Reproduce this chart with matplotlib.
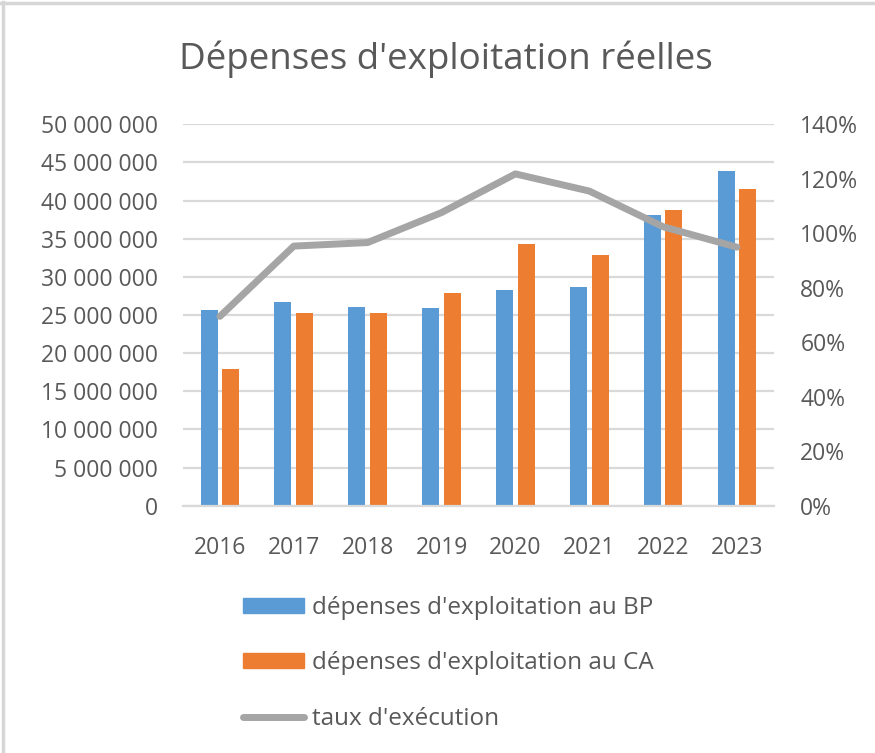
import matplotlib
matplotlib.use("Agg")
import matplotlib.pyplot as plt
from matplotlib.ticker import FuncFormatter, MultipleLocator
from matplotlib.patches import Rectangle
from matplotlib.lines import Line2D
import numpy as np

years = ["2016", "2017", "2018", "2019", "2020", "2021", "2022", "2023"]
bp = [25.65e6, 26.66e6, 26.09e6, 25.87e6, 28.28e6, 28.67e6, 38.07e6, 43.92e6]
ca = [17.88e6, 25.31e6, 25.31e6, 27.88e6, 34.27e6, 32.91e6, 38.72e6, 41.48e6]
taux = [0.695, 0.953, 0.966, 1.076, 1.218, 1.155, 1.024, 0.949]

title = "Dépenses d'exploitation réelles"
lbl_bp = "dépenses d'exploitation au BP"
lbl_ca = "dépenses d'exploitation au CA"
lbl_taux = "taux d'exécution"

c_bp = "#5b9bd5"
c_ca = "#ed7d31"
c_line = "#a5a5a5"
c_text = "#595959"
c_grid = "#d9d9d9"

plt.rcParams['font.family'] = ['Open Sans', 'DejaVu Sans']

fig = plt.figure(figsize=(8.75, 7.53), dpi=100)
fig.patch.set_facecolor("white")
# outer frame (visible on top and left only)
fig.add_artist(Line2D([0.0035, 0.0035], [0.0, 0.997], transform=fig.transFigure,
                      color="#d6d6d6", linewidth=2.5))
fig.add_artist(Line2D([0.0, 1.0], [0.9965, 0.9965], transform=fig.transFigure,
                      color="#d6d6d6", linewidth=2.5))

ax = fig.add_axes([0.2091, 0.3284, 0.6754, 0.5065])
x = np.arange(len(years))
w = 0.23
off = 0.147
ax.bar(x - off, bp, width=w, color=c_bp, label=lbl_bp, zorder=2)
ax.bar(x + off, ca, width=w, color=c_ca, label=lbl_ca, zorder=2)
ax.set_xlim(-0.5, len(years) - 0.5)
ax.set_ylim(0, 50e6)
ax.yaxis.set_major_locator(MultipleLocator(5e6))
ax.yaxis.set_major_formatter(FuncFormatter(lambda v, p: f"{int(round(v)):,}".replace(",", " ")))
ax.set_xticks(x)
ax.set_xticklabels(years)
ax.grid(axis="y", color=c_grid, linewidth=1.6, zorder=0)
ax.set_axisbelow(True)
for s in ["top", "right", "left"]:
    ax.spines[s].set_visible(False)
ax.spines["bottom"].set_color(c_grid)
ax.spines["bottom"].set_linewidth(1.6)
ax.tick_params(axis="both", length=0, labelsize=16.5, labelcolor=c_text)
ax.tick_params(axis="y", pad=18)
ax.tick_params(axis="x", pad=21.5)

ax2 = ax.twinx()
ax2.plot(x, taux, color=c_line, linewidth=5, solid_capstyle="round",
         solid_joinstyle="round", label=lbl_taux, zorder=3)
ax2.set_ylim(0, 1.4)
ax2.yaxis.set_major_locator(MultipleLocator(0.2))
ax2.yaxis.set_major_formatter(FuncFormatter(lambda v, p: f"{v*100:.0f}%"))
for s in ["top", "right", "left", "bottom"]:
    ax2.spines[s].set_visible(False)
ax2.tick_params(axis="y", length=0, labelsize=16.5, labelcolor=c_text, pad=19)

fig.text(0.510, 0.921, title, ha="center", va="center", fontsize=26.5, color=c_text)

handles = [Rectangle((0, 0), 1, 1, color=c_bp), Rectangle((0, 0), 1, 1, color=c_ca),
           Line2D([0], [0], color=c_line, linewidth=5, solid_capstyle="round")]
fig.legend(handles, [lbl_bp, lbl_ca, lbl_taux], loc="upper left",
           bbox_to_anchor=(0.2777, 0.208), bbox_transform=fig.transFigure,
           frameon=False, fontsize=17.5, labelcolor=c_text,
           handlelength=2.5, handleheight=0.58, handletextpad=0.33,
           labelspacing=1.28, borderaxespad=0, borderpad=0)

fig.savefig("out.png", dpi=100)
